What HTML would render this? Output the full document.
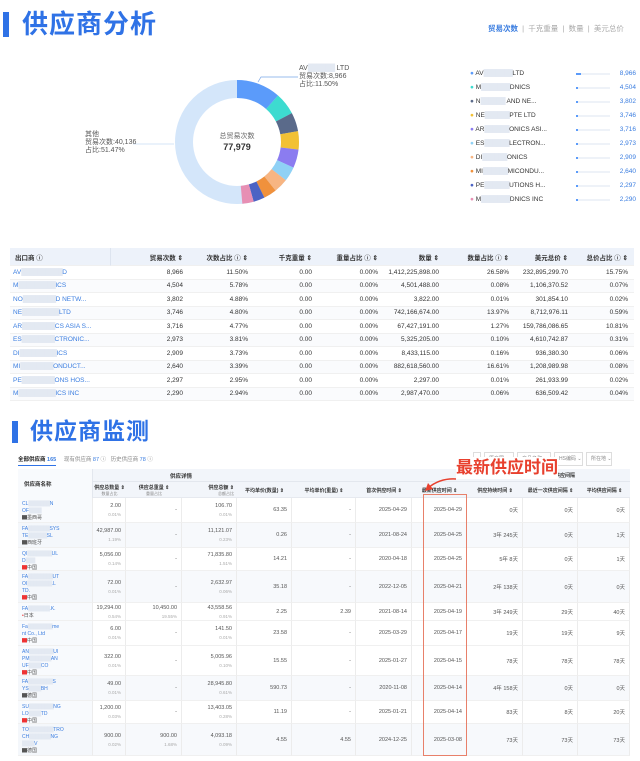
<!DOCTYPE html>
<html><head><meta charset="utf-8"><style>
*{margin:0;padding:0;box-sizing:border-box}
body{width:640px;height:761px;background:#fff;position:relative;overflow:hidden;font-family:"Liberation Sans","Noto Sans CJK SC",sans-serif;color:#333}
.a{position:absolute;white-space:nowrap}
.bl{color:#3a7de0}
.blur{color:#e3e9f2;letter-spacing:-0.5px}
.t1{font-size:7px;line-height:8px}
.grid{position:absolute;display:grid}
.cell{font-size:6.5px;display:flex;align-items:center;justify-content:flex-end;padding-right:6px;border-bottom:1px solid #f0f0f0;white-space:nowrap;overflow:hidden}
.hd{background:#edf2fa;font-weight:bold;color:#333}
.b .cell{border-right:1px solid #ececec;flex-direction:column;align-items:flex-end;justify-content:center;padding-right:4px;font-size:5.5px;color:#555}
.b .cell.nm{display:block;padding:3px 0 0 4px;color:#3a7de0;font-size:5px;line-height:7px;background:#f8fafd}
.sm{font-size:4.5px;color:#aaa;margin-top:3px}
</style></head><body>

<div class="a" style="left:3px;top:12px;width:6px;height:25px;background:#2f72e6"></div>
<div class="a" style="left:22px;top:8px;font-size:26px;line-height:32px;color:#2f72e6;letter-spacing:1px;font-weight:bold">供应商分析</div>
<div class="a" style="left:488px;top:23px;font-size:7.5px;color:#aaa"><span class="bl" style="font-weight:bold">贸易次数</span> &nbsp;|&nbsp; 千克重量 &nbsp;|&nbsp; 数量 &nbsp;|&nbsp; 美元总价</div>

<svg class="a" style="left:0;top:0" width="640" height="240">
<g transform="rotate(-90 237 142)" fill="none" stroke-width="18">
<circle cx="237" cy="142" r="53" stroke="#d4e6fa"/>
<circle cx="237" cy="142" r="53" stroke="#5b9bfa" stroke-dasharray="38.3 400" stroke-dashoffset="0"/>
<circle cx="237" cy="142" r="53" stroke="#3ddbd0" stroke-dasharray="19.2 400" stroke-dashoffset="-38.3"/>
<circle cx="237" cy="142" r="53" stroke="#5a6a8a" stroke-dasharray="16.3 400" stroke-dashoffset="-57.5"/>
<circle cx="237" cy="142" r="53" stroke="#f2c135" stroke-dasharray="16 400" stroke-dashoffset="-73.8"/>
<circle cx="237" cy="142" r="53" stroke="#8b7cf0" stroke-dasharray="15.9 400" stroke-dashoffset="-89.8"/>
<circle cx="237" cy="142" r="53" stroke="#8fd1f5" stroke-dasharray="12.7 400" stroke-dashoffset="-105.7"/>
<circle cx="237" cy="142" r="53" stroke="#f7b582" stroke-dasharray="12.4 400" stroke-dashoffset="-118.4"/>
<circle cx="237" cy="142" r="53" stroke="#f0913c" stroke-dasharray="11.3 400" stroke-dashoffset="-130.8"/>
<circle cx="237" cy="142" r="53" stroke="#4c63c4" stroke-dasharray="9.8 400" stroke-dashoffset="-142.1"/>
<circle cx="237" cy="142" r="53" stroke="#e78fb4" stroke-dasharray="9.8 400" stroke-dashoffset="-151.9"/>
</g>
<polyline points="258,82 261,77 298,77" fill="none" stroke="#7aa6e8" stroke-width="0.7"/>
<line x1="133" y1="144" x2="174" y2="144" stroke="#c6dbf5" stroke-width="0.7"/>
</svg>
<div class="a" style="left:212px;top:131px;width:50px;text-align:center;font-size:7px;color:#666">总贸易次数</div>
<div class="a" style="left:212px;top:142px;width:50px;text-align:center;font-size:9px;font-weight:bold;color:#333">77,979</div>
<div class="a t1" style="left:85px;top:131px;color:#555">其他<br>贸易次数:40,136<br>占比:51.47%</div>
<div class="a t1" style="left:299px;top:65px;color:#555">AV<span class="blur">██████</span> LTD<br>贸易次数:8,966<br>占比:11.50%</div>

<div class="a" style="left:470px;top:67px;width:166px;font-size:6.5px;line-height:14px;color:#333">
<div style="position:relative"><span style="color:#5b9bfa">●</span> AV<span class="blur">███████</span>LTD<span style="position:absolute;left:106px;top:6px;width:34px;height:2px;background:#eef2f8"><span style="display:block;width:5px;height:2px;background:#5b9bfa"></span></span><span class="bl" style="position:absolute;right:0">8,966</span></div>
<div style="position:relative"><span style="color:#3ddbd0">●</span> M<span class="blur">███████</span>DNICS<span style="position:absolute;left:106px;top:6px;width:34px;height:2px;background:#eef2f8"><span style="display:block;width:2px;height:2px;background:#5b9bfa"></span></span><span class="bl" style="position:absolute;right:0">4,504</span></div>
<div style="position:relative"><span style="color:#5a6a8a">●</span> N<span class="blur">██████</span> AND NE...<span style="position:absolute;left:106px;top:6px;width:34px;height:2px;background:#eef2f8"><span style="display:block;width:2px;height:2px;background:#5b9bfa"></span></span><span class="bl" style="position:absolute;right:0">3,802</span></div>
<div style="position:relative"><span style="color:#f2c135">●</span> NE<span class="blur">██████</span>PTE LTD<span style="position:absolute;left:106px;top:6px;width:34px;height:2px;background:#eef2f8"><span style="display:block;width:2px;height:2px;background:#5b9bfa"></span></span><span class="bl" style="position:absolute;right:0">3,746</span></div>
<div style="position:relative"><span style="color:#8b7cf0">●</span> AR<span class="blur">██████</span>ONICS ASI...<span style="position:absolute;left:106px;top:6px;width:34px;height:2px;background:#eef2f8"><span style="display:block;width:2px;height:2px;background:#5b9bfa"></span></span><span class="bl" style="position:absolute;right:0">3,716</span></div>
<div style="position:relative"><span style="color:#8fd1f5">●</span> ES<span class="blur">██████</span>LECTRON...<span style="position:absolute;left:106px;top:6px;width:34px;height:2px;background:#eef2f8"><span style="display:block;width:2px;height:2px;background:#5b9bfa"></span></span><span class="bl" style="position:absolute;right:0">2,973</span></div>
<div style="position:relative"><span style="color:#f7b582">●</span> DI<span class="blur">██████</span>ONICS<span style="position:absolute;left:106px;top:6px;width:34px;height:2px;background:#eef2f8"><span style="display:block;width:2px;height:2px;background:#5b9bfa"></span></span><span class="bl" style="position:absolute;right:0">2,909</span></div>
<div style="position:relative"><span style="color:#f0913c">●</span> MI<span class="blur">██████</span>MICONDU...<span style="position:absolute;left:106px;top:6px;width:34px;height:2px;background:#eef2f8"><span style="display:block;width:2px;height:2px;background:#5b9bfa"></span></span><span class="bl" style="position:absolute;right:0">2,640</span></div>
<div style="position:relative"><span style="color:#4c63c4">●</span> PE<span class="blur">██████</span>UTIONS H...<span style="position:absolute;left:106px;top:6px;width:34px;height:2px;background:#eef2f8"><span style="display:block;width:2px;height:2px;background:#5b9bfa"></span></span><span class="bl" style="position:absolute;right:0">2,297</span></div>
<div style="position:relative"><span style="color:#e78fb4">●</span> M<span class="blur">███████</span>DNICS INC<span style="position:absolute;left:106px;top:6px;width:34px;height:2px;background:#eef2f8"><span style="display:block;width:2px;height:2px;background:#5b9bfa"></span></span><span class="bl" style="position:absolute;right:0">2,290</span></div>
</div>

<div class="grid" style="left:10px;top:248px;width:624px;grid-template-columns:101px 78px 65px 64px 66px 61px 70px 59px 60px;grid-template-rows:18px repeat(10,13.5px)">
<div class="cell hd" style="justify-content:flex-start;padding-left:5px;border-right:1px solid #dde4ef">出口商 ⓘ</div><div class="cell hd">贸易次数 ⇕</div><div class="cell hd">次数占比 ⓘ ⇕</div><div class="cell hd">千克重量 ⇕</div><div class="cell hd">重量占比 ⓘ ⇕</div><div class="cell hd">数量 ⇕</div><div class="cell hd">数量占比 ⓘ ⇕</div><div class="cell hd">美元总价 ⇕</div><div class="cell hd">总价占比 ⓘ ⇕</div>
<div class="cell bl" style="justify-content:flex-start;padding-left:3px">AV<span class="blur">██████████</span>D</div><div class="cell">8,966</div><div class="cell">11.50%</div><div class="cell">0.00</div><div class="cell">0.00%</div><div class="cell">1,412,225,898.00</div><div class="cell">26.58%</div><div class="cell">232,895,299.70</div><div class="cell">15.75%</div>
<div class="cell bl" style="justify-content:flex-start;padding-left:3px;background:#fafbfd">M<span class="blur">█████████</span>ICS</div><div class="cell" style="background:#fafbfd">4,504</div><div class="cell" style="background:#fafbfd">5.78%</div><div class="cell" style="background:#fafbfd">0.00</div><div class="cell" style="background:#fafbfd">0.00%</div><div class="cell" style="background:#fafbfd">4,501,488.00</div><div class="cell" style="background:#fafbfd">0.08%</div><div class="cell" style="background:#fafbfd">1,106,370.52</div><div class="cell" style="background:#fafbfd">0.07%</div>
<div class="cell bl" style="justify-content:flex-start;padding-left:3px">NO<span class="blur">████████</span>D NETW...</div><div class="cell">3,802</div><div class="cell">4.88%</div><div class="cell">0.00</div><div class="cell">0.00%</div><div class="cell">3,822.00</div><div class="cell">0.01%</div><div class="cell">301,854.10</div><div class="cell">0.02%</div>
<div class="cell bl" style="justify-content:flex-start;padding-left:3px;background:#fafbfd">NE<span class="blur">█████████</span> LTD</div><div class="cell" style="background:#fafbfd">3,746</div><div class="cell" style="background:#fafbfd">4.80%</div><div class="cell" style="background:#fafbfd">0.00</div><div class="cell" style="background:#fafbfd">0.00%</div><div class="cell" style="background:#fafbfd">742,166,674.00</div><div class="cell" style="background:#fafbfd">13.97%</div><div class="cell" style="background:#fafbfd">8,712,976.11</div><div class="cell" style="background:#fafbfd">0.59%</div>
<div class="cell bl" style="justify-content:flex-start;padding-left:3px">AR<span class="blur">████████</span>CS ASIA S...</div><div class="cell">3,716</div><div class="cell">4.77%</div><div class="cell">0.00</div><div class="cell">0.00%</div><div class="cell">67,427,191.00</div><div class="cell">1.27%</div><div class="cell">159,786,086.65</div><div class="cell">10.81%</div>
<div class="cell bl" style="justify-content:flex-start;padding-left:3px;background:#fafbfd">ES<span class="blur">████████</span>CTRONIC...</div><div class="cell" style="background:#fafbfd">2,973</div><div class="cell" style="background:#fafbfd">3.81%</div><div class="cell" style="background:#fafbfd">0.00</div><div class="cell" style="background:#fafbfd">0.00%</div><div class="cell" style="background:#fafbfd">5,325,205.00</div><div class="cell" style="background:#fafbfd">0.10%</div><div class="cell" style="background:#fafbfd">4,610,742.87</div><div class="cell" style="background:#fafbfd">0.31%</div>
<div class="cell bl" style="justify-content:flex-start;padding-left:3px">DI<span class="blur">█████████</span>ICS</div><div class="cell">2,909</div><div class="cell">3.73%</div><div class="cell">0.00</div><div class="cell">0.00%</div><div class="cell">8,433,115.00</div><div class="cell">0.16%</div><div class="cell">936,380.30</div><div class="cell">0.06%</div>
<div class="cell bl" style="justify-content:flex-start;padding-left:3px;background:#fafbfd">MI<span class="blur">████████</span>ONDUCT...</div><div class="cell" style="background:#fafbfd">2,640</div><div class="cell" style="background:#fafbfd">3.39%</div><div class="cell" style="background:#fafbfd">0.00</div><div class="cell" style="background:#fafbfd">0.00%</div><div class="cell" style="background:#fafbfd">882,618,560.00</div><div class="cell" style="background:#fafbfd">16.61%</div><div class="cell" style="background:#fafbfd">1,208,989.98</div><div class="cell" style="background:#fafbfd">0.08%</div>
<div class="cell bl" style="justify-content:flex-start;padding-left:3px">PE<span class="blur">████████</span>ONS HOS...</div><div class="cell">2,297</div><div class="cell">2.95%</div><div class="cell">0.00</div><div class="cell">0.00%</div><div class="cell">2,297.00</div><div class="cell">0.01%</div><div class="cell">261,933.99</div><div class="cell">0.02%</div>
<div class="cell bl" style="justify-content:flex-start;padding-left:3px;background:#fafbfd">M<span class="blur">█████████</span>ICS INC</div><div class="cell" style="background:#fafbfd">2,290</div><div class="cell" style="background:#fafbfd">2.94%</div><div class="cell" style="background:#fafbfd">0.00</div><div class="cell" style="background:#fafbfd">0.00%</div><div class="cell" style="background:#fafbfd">2,987,470.00</div><div class="cell" style="background:#fafbfd">0.06%</div><div class="cell" style="background:#fafbfd">636,509.42</div><div class="cell" style="background:#fafbfd">0.04%</div>
</div>

<div class="a" style="left:12px;top:421px;width:6px;height:22px;background:#2f72e6"></div>
<div class="a" style="left:30px;top:416px;font-size:23px;line-height:30px;color:#2f72e6;letter-spacing:1px;font-weight:bold">供应商监测</div>

<div class="a" style="left:18px;top:455px;font-size:5.5px;color:#888"><span style="color:#222;font-weight:bold;border-bottom:1.5px solid #2f72e6;padding-bottom:2px">全部供应商 <span class="bl">165</span></span> &nbsp;&nbsp;&nbsp; 现有供应商 <span class="bl">87</span> ⓘ &nbsp; 历史供应商 <span class="bl">78</span> ⓘ</div>
<div class="a" style="left:473px;top:452px;font-size:5px;color:#888;display:flex;gap:3px">
<span style="display:inline-block;border:1px solid #ddd;width:8px;height:14px"></span>
<span style="display:inline-block;border:1px solid #ddd;width:30px;height:14px;line-height:12px;padding-left:4px">原产国 ⌄</span>
<span style="display:inline-block;border:1px solid #ddd;width:34px;height:14px;line-height:12px;padding-left:4px">产品名称 ⌄</span>
<span style="display:inline-block;border:1px solid #ddd;width:29px;height:14px;line-height:12px;padding-left:4px">HS编码 ⌄</span>
<span style="display:inline-block;border:1px solid #ddd;width:26px;height:14px;line-height:12px;padding-left:4px">所在地 ⌄</span>
</div>

<div class="a" style="left:18px;top:469px;width:612px;height:29px;background:#f2f5fa;border-bottom:1px solid #e6e9ef"></div>
<div class="a" style="left:18px;top:469px;width:75px;height:287px;background:#f8fafd;border-right:1px solid #e3e7ee"></div>
<div class="a" style="left:24px;top:480px;font-size:5.5px;font-weight:bold">供应商名称</div>
<div class="a" style="left:93px;top:481px;width:537px;border-top:1px solid #e3e7ee"></div>
<div class="a" style="left:170px;top:472px;font-size:5.5px;font-weight:bold">供应详情</div>
<div class="a" style="left:555px;top:472px;font-size:5px;font-weight:bold">供应间隔</div>
<div class="a" style="left:93px;top:484px;display:flex;font-size:5px;font-weight:bold;color:#333">
<div style="width:33px;text-align:center">供应总数量 ⇕<br><span style="font-size:4px;color:#888;font-weight:normal">数量占比</span></div>
<div style="width:56px;text-align:center">供应总重量 ⇕<br><span style="font-size:4px;color:#888;font-weight:normal">重量占比</span></div>
<div style="width:55px;text-align:right;padding-right:3px">供应总额 ⇕<br><span style="font-size:4px;color:#888;font-weight:normal">总额占比</span></div>
<div style="width:55px;text-align:center;padding-top:3px">平均单价(数量) ⇕</div>
<div style="width:64px;text-align:center;padding-top:3px">平均单价(重量) ⇕</div>
<div style="width:56px;text-align:center;padding-top:3px">首次供应时间 ⇕</div>
<div style="width:55px;text-align:center;padding-top:3px">最新供应时间 ⇕</div>
<div style="width:56px;text-align:center;padding-top:3px">供应持续时间 ⇕</div>
<div style="width:55px;text-align:center;padding-top:3px">最近一次供应间隔 ⇕</div>
<div style="width:53px;text-align:center;padding-top:3px">平均供应间隔 ⇕</div>
</div>

<div class="grid b" style="left:18px;top:498px;width:612px;grid-template-columns:75px 33px 56px 55px 55px 64px 56px 55px 56px 55px 52px;grid-template-rows:25px 25px 23px 32px 18px 25px 30px 25px 23px 32px">
<div class="cell nm">CL<span class="blur">███████</span>N<br>OF<span class="blur">████</span><br><span style="color:#555">▇墨西哥</span></div><div class="cell">2.00<span class="sm">0.01%</span></div><div class="cell">-</div><div class="cell">106.70<span class="sm">0.01%</span></div><div class="cell">63.35</div><div class="cell">-</div><div class="cell">2025-04-29</div><div class="cell">2025-04-29</div><div class="cell">0天</div><div class="cell">0天</div><div class="cell">0天</div>
<div class="cell nm" style="background:#f4f7fb">FA<span class="blur">███████</span>SYS<br>TE<span class="blur">██████</span>SL<br><span style="color:#555">▇西班牙</span></div><div class="cell" style="background:#f7f9fc">42,987.00<span class="sm">1.19%</span></div><div class="cell" style="background:#f7f9fc">-</div><div class="cell" style="background:#f7f9fc">11,121.07<span class="sm">0.23%</span></div><div class="cell" style="background:#f7f9fc">0.26</div><div class="cell" style="background:#f7f9fc">-</div><div class="cell" style="background:#f7f9fc">2021-08-24</div><div class="cell" style="background:#f7f9fc">2025-04-25</div><div class="cell" style="background:#f7f9fc">3年 245天</div><div class="cell" style="background:#f7f9fc">0天</div><div class="cell" style="background:#f7f9fc">1天</div>
<div class="cell nm">QI<span class="blur">████████</span>UL<br>D<span class="blur">███</span><br><span style="color:#555"><span style="color:#e33">▇</span>中国</span></div><div class="cell">5,056.00<span class="sm">0.14%</span></div><div class="cell">-</div><div class="cell">71,835.80<span class="sm">1.51%</span></div><div class="cell">14.21</div><div class="cell">-</div><div class="cell">2020-04-18</div><div class="cell">2025-04-25</div><div class="cell">5年 8天</div><div class="cell">0天</div><div class="cell">1天</div>
<div class="cell nm" style="background:#f4f7fb">FA<span class="blur">████████</span>UT<br>OI<span class="blur">████████</span>.L<br>TD.<br><span style="color:#555"><span style="color:#e33">▇</span>中国</span></div><div class="cell" style="background:#f7f9fc">72.00<span class="sm">0.01%</span></div><div class="cell" style="background:#f7f9fc">-</div><div class="cell" style="background:#f7f9fc">2,632.97<span class="sm">0.06%</span></div><div class="cell" style="background:#f7f9fc">35.18</div><div class="cell" style="background:#f7f9fc">-</div><div class="cell" style="background:#f7f9fc">2022-12-05</div><div class="cell" style="background:#f7f9fc">2025-04-21</div><div class="cell" style="background:#f7f9fc">2年 138天</div><div class="cell" style="background:#f7f9fc">0天</div><div class="cell" style="background:#f7f9fc">0天</div>
<div class="cell nm">FA<span class="blur">███████</span>.K.<br><span style="color:#555"><span style="color:#e33">•</span>日本</span></div><div class="cell">19,294.00<span class="sm">0.54%</span></div><div class="cell">10,450.00<span class="sm">19.55%</span></div><div class="cell">43,558.56<span class="sm">0.91%</span></div><div class="cell">2.25</div><div class="cell">2.39</div><div class="cell">2021-08-14</div><div class="cell">2025-04-19</div><div class="cell">3年 249天</div><div class="cell">29天</div><div class="cell">40天</div>
<div class="cell nm">Fa<span class="blur">████████</span>me<br>nt Co., Ltd<br><span style="color:#555"><span style="color:#e33">▇</span>中国</span></div><div class="cell">6.00<span class="sm">0.01%</span></div><div class="cell">-</div><div class="cell">141.50<span class="sm">0.01%</span></div><div class="cell">23.58</div><div class="cell">-</div><div class="cell">2025-03-29</div><div class="cell">2025-04-17</div><div class="cell">19天</div><div class="cell">19天</div><div class="cell">9天</div>
<div class="cell nm">AN<span class="blur">████████</span>UI<br>PM<span class="blur">███████</span>AN<br>UF<span class="blur">████</span>CO<br><span style="color:#555"><span style="color:#e33">▇</span>中国</span></div><div class="cell">322.00<span class="sm">0.01%</span></div><div class="cell">-</div><div class="cell">5,005.96<span class="sm">0.10%</span></div><div class="cell">15.55</div><div class="cell">-</div><div class="cell">2025-01-27</div><div class="cell">2025-04-15</div><div class="cell">78天</div><div class="cell">78天</div><div class="cell">78天</div>
<div class="cell nm" style="background:#f4f7fb">FA<span class="blur">████████</span>S<br>YS<span class="blur">████</span>BH<br><span style="color:#555">▇德国</span></div><div class="cell" style="background:#f7f9fc">49.00<span class="sm">0.01%</span></div><div class="cell" style="background:#f7f9fc">-</div><div class="cell" style="background:#f7f9fc">28,945.80<span class="sm">0.61%</span></div><div class="cell" style="background:#f7f9fc">590.73</div><div class="cell" style="background:#f7f9fc">-</div><div class="cell" style="background:#f7f9fc">2020-11-08</div><div class="cell" style="background:#f7f9fc">2025-04-14</div><div class="cell" style="background:#f7f9fc">4年 158天</div><div class="cell" style="background:#f7f9fc">0天</div><div class="cell" style="background:#f7f9fc">0天</div>
<div class="cell nm">SU<span class="blur">████████</span>NG<br>LO<span class="blur">████</span>TD<br><span style="color:#555"><span style="color:#e33">▇</span>中国</span></div><div class="cell">1,200.00<span class="sm">0.03%</span></div><div class="cell">-</div><div class="cell">13,403.05<span class="sm">0.28%</span></div><div class="cell">11.19</div><div class="cell">-</div><div class="cell">2025-01-21</div><div class="cell">2025-04-14</div><div class="cell">83天</div><div class="cell">8天</div><div class="cell">20天</div>
<div class="cell nm" style="background:#f4f7fb">TO<span class="blur">████████</span>TRO<br>CH<span class="blur">███████</span>NG<br><span class="blur">████</span>V<br><span style="color:#555">▇德国</span></div><div class="cell" style="background:#f7f9fc">900.00<span class="sm">0.02%</span></div><div class="cell" style="background:#f7f9fc">900.00<span class="sm">1.68%</span></div><div class="cell" style="background:#f7f9fc">4,093.18<span class="sm">0.09%</span></div><div class="cell" style="background:#f7f9fc">4.55</div><div class="cell" style="background:#f7f9fc">4.55</div><div class="cell" style="background:#f7f9fc">2024-12-25</div><div class="cell" style="background:#f7f9fc">2025-03-08</div><div class="cell" style="background:#f7f9fc">73天</div><div class="cell" style="background:#f7f9fc">73天</div><div class="cell" style="background:#f7f9fc">73天</div>
</div>

<div class="a" style="left:423px;top:494px;width:44px;height:262px;border:1.5px solid #e8806a"></div>
<div class="a" style="left:456px;top:457px;font-size:17px;line-height:22px;font-weight:bold;color:#e8402e;background:#fff">最新供应时间</div>
<svg class="a" style="left:420px;top:470px" width="40" height="24"><path d="M36 9 Q20 8 8 18" fill="none" stroke="#e8402e" stroke-width="1.5"/><path d="M5 21 L8 13 L13 19 Z" fill="#e8402e"/></svg>
</body></html>
